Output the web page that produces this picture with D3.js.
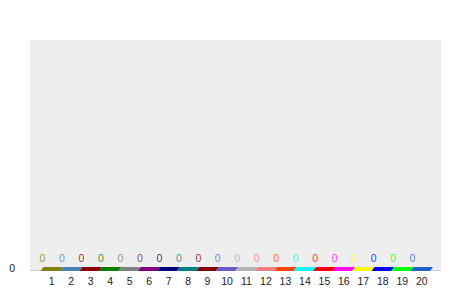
<!DOCTYPE html>
<html>
<head>
<meta charset="utf-8">
<script src="https://cdn.jsdelivr.net/npm/d3@7"></script>
<style>
	body { margin: 0; background: #fff; }
	text { font-family: "Liberation Sans", Arial, sans-serif; }
</style>
</head>
<body>
<div id="chart"></div>
<script>
var categories = ["1","2","3","4","5","6","7","8","9","10","11","12","13","14","15","16","17","18","19","20"];
var values = [0,0,0,0,0,0,0,0,0,0,0,0,0,0,0,0,0,0,0,0];
var bar_colors = ["#808000","#4682b4","#8b0000","#008000","#808080","#800080","#000080","#008080","#800000","#6a5acd",
	"#b4b4b4","#f08080","#ff4500","#00ffff","#ff0000","#ff00ff","#ffff00","#0000ff","#00ff00","#1f64c8"];
var y_ticks = [0];

var width = 450,
	height = 300;
var plot_area = {left: 30, right: 441, top: 40, bottom: 270};
var slant = 3,
	min_h = 4;

var svg = d3.select("#chart")
	.append("svg")
	.attr("width", width)
	.attr("height", height)

svg.append("rect")
	.attr("x", plot_area.left)
	.attr("y", plot_area.top)
	.attr("width", plot_area.right - plot_area.left)
	.attr("height", plot_area.bottom - plot_area.top)
	.attr("fill", "#eeeeee")

var x_scale = d3.scaleBand()
	.domain(categories)
	.range([40.5, 430])
	.padding(0)

var y_scale = d3.scaleLinear()
	.domain([0, 1])
	.range([plot_area.bottom, plot_area.top])

// baseline
svg.append("line")
	.attr("x1", plot_area.left)
	.attr("x2", plot_area.right)
	.attr("y1", y_scale(0) + 0.5)
	.attr("y2", y_scale(0) + 0.5)
	.attr("stroke", "#cccccc")

var data = categories.map(function(c, i){
	return {cat: c, value: values[i], color: bar_colors[i]}
})

// slanted bars
svg.selectAll(".bar")
	.data(data)
	.enter()
	.append("path")
	.attr("class", "bar")
	.attr("fill", function(d){ return d.color })
	.attr("d", function(d){
		var x0 = x_scale(d.cat),
			w = x_scale.bandwidth(),
			yb = y_scale(0) + 1,
			yt = Math.min(y_scale(d.value), y_scale(0)) - min_h + 1;
		return "M" + x0 + "," + yb + "L" + (x0 + w) + "," + yb +
			"L" + (x0 + w + slant) + "," + yt + "L" + (x0 + slant) + "," + yt + "Z"
	})

// value labels
svg.selectAll(".val")
	.data(data)
	.enter()
	.append("text")
	.attr("class", "val")
	.attr("x", function(d){ return x_scale(d.cat) + 2 })
	.attr("y", function(d){ return y_scale(d.value) - 8.5 })
	.attr("text-anchor", "middle")
	.attr("font-size", 10.5)
	.attr("fill", function(d){ return d.color })
	.attr("fill-opacity", 0.8)
	.text(function(d){ return d.value })

var x_axis = svg.append("g")
	.attr("transform", "translate(" + (slant / 2) + "," + plot_area.bottom + ")")
	.call(d3.axisBottom(x_scale).tickSize(0).tickPadding(8))
x_axis.select(".domain").remove()
x_axis.selectAll("text")
	.attr("font-size", 10.5)
	.attr("font-family", "Liberation Sans, Arial, sans-serif")
	.attr("fill", "#222")

var y_axis = svg.append("g")
	.attr("transform", "translate(" + plot_area.left + ",0)")
	.call(d3.axisLeft(y_scale).tickValues(y_ticks).tickFormat(d3.format("d")).tickSize(0).tickPadding(15))
y_axis.select(".domain").remove()
y_axis.selectAll("text")
	.attr("font-size", 10.5)
	.attr("font-family", "Liberation Sans, Arial, sans-serif")
	.attr("fill", "#222")
	.attr("dy", "0.1em")
</script>
</body>
</html>
